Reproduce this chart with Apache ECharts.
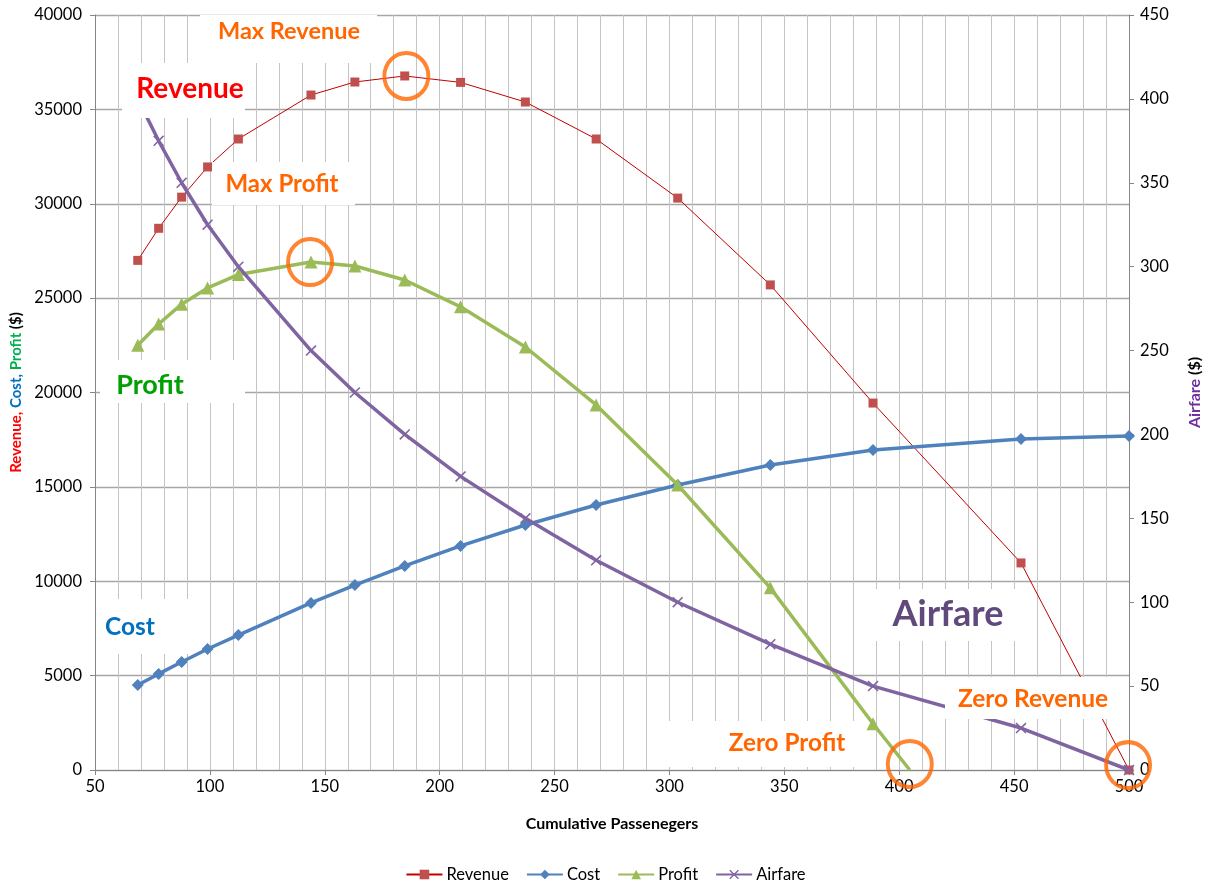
<!DOCTYPE html>
<html>
<head>
<meta charset="utf-8">
<script src="https://cdn.jsdelivr.net/npm/echarts@6/dist/echarts.min.js"></script>
<style>
  html, body { margin: 0; padding: 0; background: #fff; }
  #chart { width: 1211px; height: 884px; }
</style>
</head>
<body>
<div id="chart"></div>
<script>
// Cumulative passengers at each fare step
const passengers = [68.6, 77.7, 87.7, 99.0, 112.4, 144.0, 163.1, 184.8, 209.1, 237.3, 268.1, 303.6, 343.9, 388.6, 453.0, 500];
// Revenue, cost and profit in dollars (left axis)
const revenue = [27000, 28700, 30350, 31950, 33430, 35760, 36450, 36770, 36430, 35390, 33430, 30300, 25700, 19440, 10970, 0];
const cost = [4500, 5090, 5720, 6410, 7150, 8850, 9800, 10810, 11870, 12980, 14040, 15100, 16160, 16950, 17540, 17700];
const profit = [22500, 23630, 24680, 25540, 26250, 26910, 26700, 25960, 24540, 22410, 19340, 15100, 9650, 2450];
// Point where profit falls to zero
const zeroProfitPassengers = 404.6;
// Airfare in dollars (right axis)
const airfare = [400, 375, 350, 325, 300, 250, 225, 200, 175, 150, 125, 100, 75, 50, 25, 0];

// Highlighted points: [passengers, value]
const highlights = [
  [185.5, 36770],  // max revenue
  [143.6, 26910],  // max profit
  [404.6, 320],    // zero profit
  [499.6, 260]     // zero revenue
];

const FONT = 'Lato, "Open Sans", sans-serif';
const ORANGE = '#FF6600';

const pairs = (xs, ys) => ys.map((y, i) => [xs[i], y]);
const profitData = pairs(passengers, profit);
profitData.push({ value: [zeroProfitPassengers, 0], symbol: 'none' });

const xMark = 'path://M0,1 L1,0 L10,9 L9,10 Z M9,0 L10,1 L1,10 L0,9 Z';

const chart = echarts.init(document.getElementById('chart'));

// Text callout on a white box; (cx, cy) is the text centre
function callout(box, cx, cy, size, text, color) {
  return [
    {
      type: 'rect', z: 100,
      shape: { x: box[0], y: box[1], width: box[2] - box[0], height: box[3] - box[1] },
      style: { fill: '#fff' }, silent: true
    },
    {
      type: 'text', z: 101, x: cx, y: cy, silent: true,
      style: {
        text: text, fill: color, font: 'bold ' + size + 'px ' + FONT,
        align: 'center', verticalAlign: 'middle'
      }
    }
  ];
}

chart.setOption({
  animation: false,
  backgroundColor: '#fff',
  textStyle: { fontFamily: FONT },
  grid: { left: 95, right: 77, top: 15, bottom: 114, containLabel: false },
  legend: {
    top: 861, left: 'center',
    itemWidth: 36, itemHeight: 12, itemGap: 17,
    textStyle: { fontSize: 16.5, color: '#000', fontFamily: FONT, padding: [0, 0, 0, -1] },
    data: ['Revenue', 'Cost', 'Profit', 'Airfare']
  },
  xAxis: {
    type: 'value', min: 50, max: 500, interval: 50,
    name: 'Cumulative Passenegers', nameLocation: 'middle', nameGap: 46,
    nameTextStyle: { fontSize: 16, fontWeight: 'bold', color: '#000', fontFamily: FONT },
    axisLine: { show: true, onZero: false, lineStyle: { color: '#868686' } },
    axisTick: { show: true, length: 5, lineStyle: { color: '#868686' } },
    minorTick: { show: true, splitNumber: 5, length: 0 },
    axisLabel: { fontSize: 16.5, color: '#000', margin: 8 },
    splitLine: { show: true, lineStyle: { color: '#C4C4C4', width: 1 } },
    minorSplitLine: { show: true, lineStyle: { color: '#C4C4C4', width: 1 } }
  },
  yAxis: [
    {
      type: 'value', min: 0, max: 40000, interval: 5000, position: 'left',
      name: '{r|Revenue, }{c|Cost, }{p|Profit }{k|($)}',
      nameLocation: 'middle', nameRotate: 90, nameGap: 70,
      nameTextStyle: {
        fontSize: 15, fontWeight: 'bold', fontFamily: FONT,
        rich: {
          r: { color: '#FF0000', fontSize: 15, fontWeight: 'bold', fontFamily: FONT },
          c: { color: '#0070C0', fontSize: 15, fontWeight: 'bold', fontFamily: FONT },
          p: { color: '#00B050', fontSize: 15, fontWeight: 'bold', fontFamily: FONT },
          k: { color: '#000', fontSize: 15, fontWeight: 'bold', fontFamily: FONT }
        }
      },
      axisLine: { show: true, lineStyle: { color: '#868686' } },
      axisTick: { show: true, length: 5, lineStyle: { color: '#868686' } },
      axisLabel: { fontSize: 16.5, color: '#000', margin: 13, formatter: v => String(v) },
      splitLine: { show: true, lineStyle: { color: '#A6A6A6', width: 1.3 } }
    },
    {
      type: 'value', min: 0, max: 450, interval: 50, position: 'right',
      name: '{a|Airfare }{k|($)}',
      nameLocation: 'middle', nameRotate: 90, nameGap: 58,
      nameTextStyle: {
        fontSize: 16, fontWeight: 'bold', fontFamily: FONT,
        rich: {
          a: { color: '#7030A0', fontSize: 16, fontWeight: 'bold', fontFamily: FONT },
          k: { color: '#000', fontSize: 16, fontWeight: 'bold', fontFamily: FONT }
        }
      },
      axisLine: { show: true, lineStyle: { color: '#868686' } },
      axisTick: { show: true, length: 5, lineStyle: { color: '#868686' } },
      axisLabel: { fontSize: 16.5, color: '#000', margin: 11, formatter: v => String(v) },
      splitLine: { show: false }
    }
  ],
  series: [
    {
      name: 'Revenue', type: 'line', yAxisIndex: 0, z: 3,
      data: pairs(passengers, revenue),
      symbol: 'rect', symbolSize: 9,
      lineStyle: { color: '#C00000', width: 1 },
      itemStyle: { color: '#C0504D' }
    },
    {
      name: 'Cost', type: 'line', yAxisIndex: 0, z: 4,
      data: pairs(passengers, cost),
      symbol: 'diamond', symbolSize: 12,
      lineStyle: { color: '#4F81BD', width: 3.5 },
      itemStyle: { color: '#4F81BD' }
    },
    {
      name: 'Profit', type: 'line', yAxisIndex: 0, z: 5,
      data: profitData,
      symbol: 'triangle', symbolSize: 13,
      lineStyle: { color: '#9BBB59', width: 3.5 },
      itemStyle: { color: '#9BBB59' }
    },
    {
      name: 'Airfare', type: 'line', yAxisIndex: 1, z: 6,
      data: pairs(passengers, airfare),
      symbol: xMark, symbolSize: 11,
      lineStyle: { color: '#8064A2', width: 3.5 },
      itemStyle: { color: '#8064A2' }
    },
    {
      name: 'highlight', type: 'scatter', yAxisIndex: 0, z: 20,
      data: highlights,
      symbol: 'circle', symbolSize: [44, 46],
      itemStyle: { color: 'rgba(0,0,0,0)', borderColor: ORANGE, borderWidth: 4 },
      emphasis: { disabled: true },
      silent: true
    }
  ],
  graphic: [].concat(
    callout([200, 15, 377, 63], 289, 31, 23.5, 'Max Revenue', ORANGE),
    callout([122, 63, 245, 118], 190, 89, 28, 'Revenue', '#FF0000'),
    callout([212, 162, 355, 205], 282, 184, 24, 'Max Profit', ORANGE),
    callout([100, 360, 245, 403], 150, 385, 27, 'Profit', '#00A000'),
    callout([96, 599, 188, 654], 130, 627, 24.5, 'Cost', '#0070C0'),
    callout([868, 589, 1022, 641], 948, 614, 36, 'Airfare', '#604A7B'),
    callout([945, 677, 1128, 719], 1033, 699, 24.5, 'Zero Revenue', ORANGE),
    callout([660, 721, 855, 767], 787, 743, 24.3, 'Zero Profit', ORANGE)
  )
});
</script>
</body>
</html>
